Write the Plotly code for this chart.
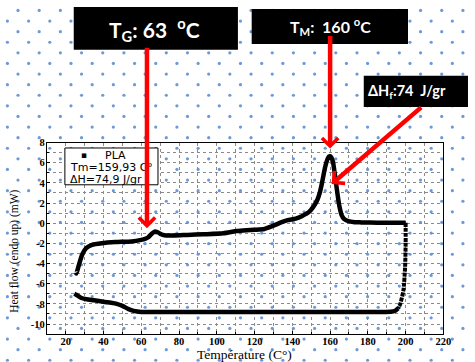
import numpy as np
import plotly.graph_objects as go

W, H = 475, 362

# DSC thermogram of PLA - heating scan
heat_temp = [25.3, 25.6, 27.0, 28.7, 30.8, 33.9, 39.1, 46.1, 54.8, 60.0, 62.0, 63.5,
             65.2, 67.0, 68.7, 70.5, 72.2, 77.4, 84.4, 93.1, 103.5, 110.5, 115.7, 120.0,
             125.2, 128.7, 131.5, 134.0, 137.5, 141.8, 145.0, 148.7, 151.0, 153.1, 154.5,
             155.7, 157.4, 158.5, 159.3, 160.0, 160.7, 161.5, 162.6, 164.0, 165.0, 166.1,
             167.5, 169.6, 173.0, 176.5, 185.0, 200.0]
heat_flow = [-4.9, -5.0, -4.1, -3.1, -2.47, -2.14, -1.98, -1.87, -1.81, -1.65, -1.55, -1.42,
             -1.1, -0.83, -0.9, -1.1, -1.2, -1.22, -1.16, -1.1, -1.0, -0.78, -0.70, -0.65,
             -0.57, -0.34, -0.12, 0.08, 0.3, 0.46, 0.7, 1.1, 1.6, 2.25, 3.0,
             4.0, 5.6, 6.3, 6.6, 6.65, 6.5, 6.1, 4.7, 2.77, 1.6, 0.81,
             0.4, 0.2, 0.1, 0.08, 0.05, 0.05]

# isothermal drop at the end of the heating scan
hold_temp = [200.0, 200.0, 199.7, 198.8, 197.1, 196.0]
hold_flow = [0.05, -2.0, -4.4, -6.7, -8.03, -8.45]

# cooling scan
cool_temp = [196.0, 194.5, 191.9, 180.0, 150.0, 120.0, 90.0, 60.0, 56.0, 53.0, 50.0,
             47.0, 44.0, 40.0, 35.0, 31.0, 28.0, 25.5, 24.5]
cool_flow = [-8.45, -8.68, -8.78, -8.8, -8.8, -8.8, -8.8, -8.8, -8.7, -8.5, -8.2,
             -8.0, -7.9, -7.8, -7.65, -7.55, -7.4, -7.1, -7.0]

x_ticks = [20, 40, 60, 80, 100, 120, 140, 160, 180, 200, 220]
y_ticks = [8, 6, 4, 2, 0, -2, -4, -6, -8, -10]

tg_value = 63
tm_value = 160
dh_value = 74
tm_fit = "159,93"
dh_fit = "74,9"


def fx(p):
    return p / W


def fy(p):
    return 1 - p / H


fig = go.Figure()

# page background dot texture (first subplot, drawn underneath)
dot_x, dot_y = [], []
for n in range(35):
    yy = 5.5 + 10.75 * n
    x0 = 18.3 if n % 2 == 0 else 7.55
    xs = np.arange(x0, W + 5, 21.55)
    dot_x.extend(xs.tolist())
    dot_y.extend([yy] * len(xs))
fig.add_trace(go.Scatter(x=dot_x, y=dot_y, mode="markers", xaxis="x", yaxis="y",
                         marker=dict(size=3.2, color="#6d9ad6", line=dict(width=0)),
                         hoverinfo="skip", showlegend=False))

line_style = dict(color="black", width=4.5)
fig.add_trace(go.Scatter(x=heat_temp, y=heat_flow, mode="lines", xaxis="x2", yaxis="y2",
                         line=dict(**line_style, shape="spline", smoothing=0.6),
                         showlegend=False))
fig.add_trace(go.Scatter(x=hold_temp, y=hold_flow, mode="lines", xaxis="x2", yaxis="y2",
                         line=dict(color="black", width=4, dash="4px,1px",
                                   shape="spline", smoothing=0.6),
                         showlegend=False))
fig.add_trace(go.Scatter(x=cool_temp, y=cool_flow, mode="lines", xaxis="x2", yaxis="y2",
                         line=dict(**line_style, shape="spline", smoothing=0.6),
                         showlegend=False))

tick_font = dict(family="Liberation Serif", size=10.5, color="black", weight="bold")
grid = dict(showgrid=True, gridcolor="#8a8a8a", gridwidth=1, griddash="dot")

fig.update_layout(
    width=W, height=H,
    margin=dict(l=0, r=0, t=0, b=0),
    paper_bgcolor="white",
    plot_bgcolor="rgba(0,0,0,0)",
    showlegend=False,
    xaxis=dict(domain=[0, 1], range=[0, W], visible=False, fixedrange=True),
    yaxis=dict(domain=[0, 1], range=[H, 0], visible=False, fixedrange=True),
    xaxis2=dict(domain=[fx(47.7), fx(451)], range=[10, 220], anchor="y2",
                tickvals=x_ticks, ticktext=[str(v) for v in x_ticks],
                tickfont=tick_font, ticks="inside", ticklen=3, tickcolor="black",
                ticklabelstandoff=-3,
                showline=True, mirror=True, linecolor="black", linewidth=1,
                zeroline=False, **grid,
                minor=dict(dtick=10, tick0=10, showgrid=True, gridcolor="#8a8a8a",
                           griddash="dot", ticks="inside", ticklen=2, tickcolor="black")),
    yaxis2=dict(domain=[fy(333.7), fy(139.5)], range=[-11, 8], anchor="x2",
                tickvals=y_ticks, ticktext=[str(v) for v in y_ticks],
                tickfont=tick_font, ticks="inside", ticklen=3, tickcolor="black",
                ticklabelstandoff=-1,
                showline=True, mirror=True, linecolor="black", linewidth=1,
                zeroline=False, **grid,
                minor=dict(dtick=1, tick0=0, showgrid=True, gridcolor="#8a8a8a",
                           griddash="dot", ticks="inside", ticklen=2, tickcolor="black")),
)

shapes = []
# black label boxes
for x0, y0, x1, y1 in [(75, 2, 242, 45.5), (256, 4, 415, 39.5), (370, 71.7, 476, 103.5)]:
    shapes.append(dict(type="rect", xref="paper", yref="paper", layer="above",
                       x0=fx(x0), x1=fx(x1), y0=fy(y1), y1=fy(y0),
                       fillcolor="black", line=dict(width=0)))
# legend frame
shapes.append(dict(type="rect", xref="paper", yref="paper", layer="above",
                   x0=fx(66), x1=fx(160.7), y0=fy(182.3), y1=fy(145),
                   fillcolor="white", line=dict(color="black", width=1)))
fig.update_layout(shapes=shapes)

box_font = dict(family="Lato", color="white", weight="bold")
legend_font = dict(family="DejaVu Sans", size=11, color="black")
ann = [
    dict(x=fx(157), y=fy(25), text=f"T<sub>G</sub>: {tg_value}\u00a0\u00a0<sup>o</sup>C",
         font=dict(**box_font, size=21)),
    dict(x=fx(336), y=fy(22), text=f"T<sub>M</sub>:\u00a0 {tm_value} <sup>o</sup>C",
         font=dict(**box_font, size=16)),
    dict(x=fx(414), y=fy(88), text=f"\u0394H<sub>f</sub>:{dh_value}\u00a0\u00a0J/gr",
         font=dict(**box_font, size=14.5)),
    dict(x=fx(85), y=fy(152), text="\u25aa",
         font=dict(family="DejaVu Sans", size=9, color="black")),
    dict(x=fx(117), y=fy(152.5), text="PLA", font=legend_font),
    dict(x=fx(69), y=fy(164.5), text=f"Tm={tm_fit} C\u00b0", xanchor="left",
         font=legend_font),
    dict(x=fx(69), y=fy(177), text=f"\u0394H={dh_fit} J/gr", xanchor="left",
         font=legend_font),
    dict(x=fx(249), y=fy(354), text="Température (C\u00b0)",
         font=dict(family="Liberation Serif", size=13.5, color="black")),
    dict(x=fx(14), y=fy(249.5), text="Heat flow (endo up) (mW)", textangle=-90,
         font=dict(family="Liberation Serif", size=11.5, color="black")),
]
for a in ann:
    a.setdefault("xref", "paper")
    a.setdefault("yref", "paper")
    a.setdefault("xanchor", "center")
    a.setdefault("yanchor", "middle")
    a["showarrow"] = False

arrow = dict(xref="x2", yref="y2", text="", showarrow=True, arrowhead=4,
             arrowsize=0.7, arrowwidth=4.5, arrowcolor="#ff0000", standoff=0)
ann += [
    dict(**arrow, x=tg_value, y=-0.5, ax=0, ay=-182),
    dict(**arrow, x=tm_value, y=7.4, ax=0, ay=-114),
    dict(**arrow, x=160.8, y=3.88, ax=91, ay=-78),
]
fig.update_layout(annotations=ann)

fig.write_html("out.html")
